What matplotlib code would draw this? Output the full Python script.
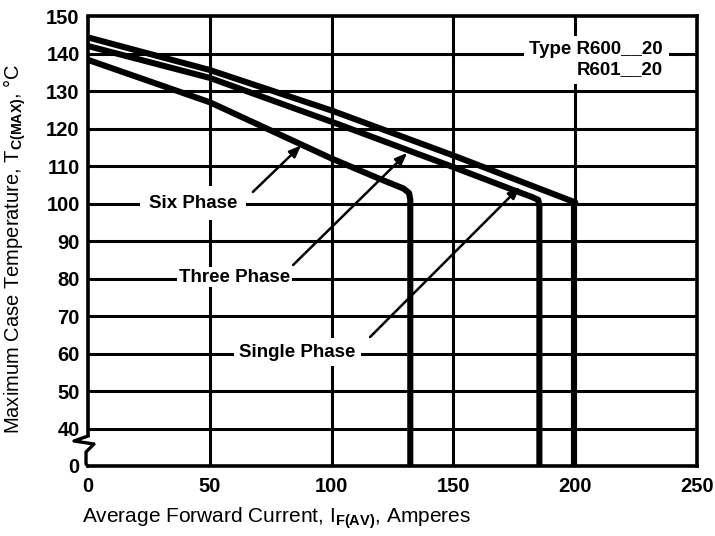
import numpy as np
import matplotlib
matplotlib.use('Agg')
from matplotlib import pyplot as plt

plt.rcParams['font.family'] = ['Liberation Sans', 'DejaVu Sans']
plt.rcParams['mathtext.fontset'] = 'custom'
plt.rcParams['mathtext.rm'] = 'Liberation Sans'
plt.rcParams['mathtext.bf'] = 'Liberation Sans:bold'

# 曲线数据：平均正向电流 (A) 与最高管壳温度 (°C)
single_x = [0, 50, 100, 150, 200, 199.5, 199.5]
single_y = [144.3, 135.6, 124.8, 112.8, 100.3, 100, 0]
three_x = [0, 50, 100, 150, 175, 182, 184.8, 185.3, 185.3]
three_y = [142.0, 133.5, 121.8, 109.7, 103.5, 101.8, 101.0, 99.5, 0]
six_x = [0, 50, 100, 120, 129.5, 131.8, 132.3, 132.3]
six_y = [138.3, 127.0, 112.0, 106.5, 104.0, 102.8, 101.0, 0]

x_ticks = [0, 50, 100, 150, 200, 250]
y_ticks = [0, 40, 50, 60, 70, 80, 90, 100, 110, 120, 130, 140, 150]
x_grid = [50, 100, 150, 200]
y_grid = [40, 50, 60, 70, 80, 90, 100, 110, 120, 130, 140]


# 断轴：0~40 压缩为一个格
def fwd(y):
    y = np.asarray(y, dtype=float)
    return np.where(y >= 40, y, 30 + y / 4.0)


def inv(z):
    z = np.asarray(z, dtype=float)
    return np.where(z >= 40, z, (z - 30) * 4.0)


fig = plt.figure(figsize=(7.15, 5.36), dpi=100)
ax = fig.add_axes([0.1231, 0.1306, 0.8517, 0.8395])
ax.set_yscale('function', functions=(fwd, inv))
ax.set_xlim(0, 250)
ax.set_ylim(0, 150)

# 网格线
for gx in x_grid:
    ax.axvline(gx, color='black', lw=2.2, zorder=1)
for gy in y_grid:
    ax.axhline(gy, color='black', lw=2.2, zorder=1)

# 曲线
for xs, ys in [(single_x, single_y), (three_x, three_y), (six_x, six_y)]:
    ax.plot(xs, ys, color='black', lw=4.4, solid_joinstyle='round',
            solid_capstyle='butt', zorder=3)

# 边框
for side in ['top', 'right', 'bottom']:
    ax.spines[side].set_linewidth(2.6)
ax.spines['left'].set_visible(False)
# 左轴带断裂符号
px = lambda v: (v - 88) / 609.0
py = lambda v: (466 - v) / 450.0
ax.plot([0, 0], [1, py(436)], color='black', lw=2.6, transform=ax.transAxes,
        clip_on=False, zorder=4, solid_capstyle='butt')
ax.plot([px(88), px(74), px(94), px(86), px(86), px(88)],
        [py(436), py(441), py(444), py(452), py(464), py(466)],
        color='black', lw=2.4, transform=ax.transAxes, clip_on=False, zorder=4)

# 刻度
ax.set_xticks(x_ticks)
ax.set_yticks(y_ticks)
ax.set_xticklabels([str(v) for v in x_ticks], fontsize=14.5, fontweight='bold')
ax.set_yticklabels([str(v) for v in y_ticks], fontsize=14.5, fontweight='bold')
ax.tick_params(axis='x', length=0, pad=8)
ax.tick_params(axis='y', length=0, pad=6)
ax.minorticks_off()

# 标注文字
box = dict(boxstyle='square,pad=0.45', fc='white', ec='none')
ax.text(43.1, 100.1, 'Six Phase', fontsize=13.5, fontweight='bold',
        ha='center', va='center', bbox=box, zorder=5)
ax.text(60.3, 80.4, 'Three Phase', fontsize=13.5, fontweight='bold',
        ha='center', va='center', zorder=5,
        bbox=dict(boxstyle='square,pad=0.1', fc='white', ec='none'))
ax.text(86.0, 60.4, 'Single Phase', fontsize=13.5, fontweight='bold',
        ha='center', va='center', zorder=5,
        bbox=dict(boxstyle='square,pad=0.3', fc='white', ec='none'))
ax.text(236, 138.3, 'Type R600__20\nR601__20', fontsize=13.5, fontweight='bold',
        ha='right', va='center', multialignment='right', linespacing=1.25,
        zorder=5, bbox=dict(boxstyle='square,pad=0.3', fc='white', ec='none'))

# 箭头
arrow = dict(arrowstyle='-|>,head_length=0.7,head_width=0.28', lw=1.8,
             color='black', shrinkA=0, shrinkB=0)
ax.annotate('', xy=(87.5, 115.5), xytext=(67.7, 103.1), arrowprops=arrow, zorder=6)
ax.annotate('', xy=(131.0, 113.5), xytext=(84.2, 83.6), arrowprops=arrow, zorder=6)
ax.annotate('', xy=(177.3, 104.4), xytext=(115.8, 64.4), arrowprops=arrow, zorder=6)

# 坐标轴标题
ax.set_xlabel(r'Average Forward Current, $\mathrm{I}_{\mathbf{F(AV)}}$, Amperes',
              fontsize=15, loc='left')
ax.xaxis.set_label_coords(-0.01, -0.116)
ax.xaxis.label.set_va('center')
ax.set_ylabel(r'Maximum Case Temperature, $\mathrm{T}_{\mathbf{C(MAX)}}$, °C',
              fontsize=14.5)
ax.yaxis.set_label_coords(-0.12, 0.484)
ax.yaxis.label.set_va('center')

fig.savefig('out.png', dpi=100)
